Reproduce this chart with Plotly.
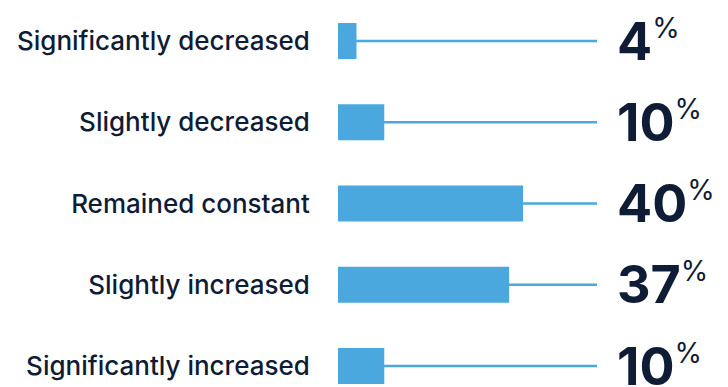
import plotly.graph_objects as go

categories = ["Significantly decreased", "Slightly decreased", "Remained constant",
              "Slightly increased", "Significantly increased"]
values = [4, 10, 40, 37, 10]
labels = ["4", "10", "40", "37", "10"]

BAR = "#4aa8de"
TEXT = "#0f1c35"

fig = go.Figure()
fig.add_trace(go.Bar(
    x=values, y=categories, orientation="h",
    marker=dict(color=BAR, line=dict(width=0)),
    width=0.443, hoverinfo="skip",
))

for c in categories:
    fig.add_shape(type="line", xref="x domain", yref="y",
                  x0=0, x1=1, y0=c, y1=c, layer="below",
                  line=dict(color=BAR, width=2.6))

for c, lab in zip(categories, labels):
    fig.add_annotation(
        xref="x domain", yref="y", x=1.07, y=c,
        xanchor="left", yanchor="middle", showarrow=False,
        text=f"<b>{lab}</b><sup><span style='font-size:28px'>%</span></sup>",
        font=dict(family="Inter", size=52, color=TEXT),
    )

fig.update_layout(
    width=728, height=387,
    margin=dict(l=338, r=131, t=0, b=0),
    plot_bgcolor="white", paper_bgcolor="white",
    showlegend=False, bargap=0.557,
    xaxis=dict(range=[0, 56], visible=False, fixedrange=True),
    yaxis=dict(type="category", range=[4.258, -0.505], showgrid=False,
               zeroline=False, showline=False,
               ticks="outside", ticklen=22, tickcolor="rgba(0,0,0,0)",
               tickfont=dict(family="Inter", size=26, weight=500, color=TEXT)),
)

fig.write_html("out.html")
